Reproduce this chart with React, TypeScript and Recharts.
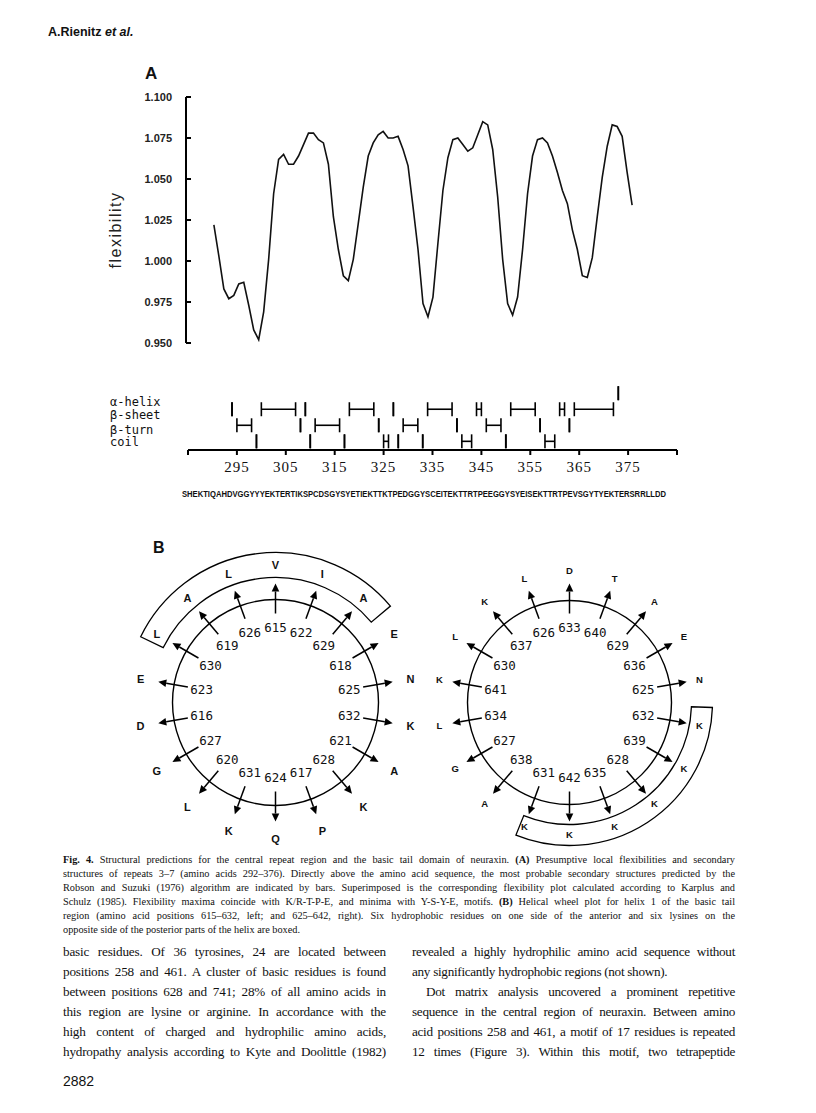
import React from "react"
import { LineChart, Line, XAxis, YAxis, ComposedChart, Scatter, ErrorBar } from "recharts"

// Karplus & Schulz flexibility, repeats 3-7 (residues 292-376)
const firstResidue = 292
const flexibility = [
    1.022, 1.003, 0.983, 0.977, 0.979, 0.986, 0.987, 0.973, 0.958, 0.952,
    0.969, 1.001, 1.041, 1.062, 1.065, 1.059, 1.059, 1.064, 1.071, 1.078,
    1.078, 1.074, 1.072, 1.059, 1.027, 1.007, 0.991, 0.988, 1.001, 1.023,
    1.045, 1.064, 1.072, 1.077, 1.079, 1.075, 1.075, 1.076, 1.068, 1.058,
    1.033, 1.007, 0.974, 0.966, 0.978, 1.011, 1.043, 1.063, 1.074, 1.075,
    1.071, 1.067, 1.069, 1.077, 1.085, 1.083, 1.068, 1.039, 1.001, 0.974,
    0.967, 0.978, 1.007, 1.041, 1.064, 1.074, 1.075, 1.072, 1.064, 1.054,
    1.043, 1.035, 1.019, 1.007, 0.991, 0.990, 1.002, 1.027, 1.051, 1.070,
    1.083, 1.082, 1.076, 1.054, 1.034,
]
const flexTicks = [0.95, 0.975, 1.0, 1.025, 1.05, 1.075, 1.1]

// Robson & Suzuki secondary structure, [first, last] residue
const structureRows = ["α-helix", "β-sheet", "β-turn", "coil"]
const helixSegments = [[373, 373]]
const sheetSegments = [[294, 294], [300, 307], [309, 309], [318, 323], [327, 327], [334, 339], [344, 345], [351, 356], [361, 362], [364, 372]]
const turnSegments = [[295, 298], [308, 308], [311, 316], [324, 324], [329, 332], [340, 340], [346, 349], [357, 357], [363, 363]]
const coilSegments = [[299, 299], [310, 310], [317, 317], [325, 326], [328, 328], [333, 333], [341, 343], [350, 350], [358, 360]]
const positionTicks = [285, 295, 305, 315, 325, 335, 345, 355, 365, 375, 385]
const sequence = "SHEKTIQAHDVGGYYYEKTERTIKSPCDSGYSYETIEKTTKTPEDGGYSCEITEKTTRTPEEGGYSYEISEKTTRTPEVSGYTYEKTERSRRLLDD"

// helical wheels
const leftWheelFirst = 615
const leftWheelResidues = ["V", "D", "P", "E", "A", "L", "A", "I", "E", "Q", "N", "L", "G", "K", "A", "L", "K", "K"]
const rightWheelFirst = 625
const rightWheelResidues = ["N", "L", "G", "K", "A", "L", "K", "K", "D", "L", "K", "E", "K", "A", "K", "T", "K", "K"]

const captionLines = [
    ["b:Fig. 4.", " Structural predictions for the central repeat region and the basic tail domain of neuraxin. ", "b:(A)", " Presumptive local flexibilities and secondary"],
    ["structures of repeats 3–7 (amino acids 292–376). Directly above the amino acid sequence, the most probable secondary structures predicted by the"],
    ["Robson and Suzuki (1976) algorithm are indicated by bars. Superimposed is the corresponding flexibility plot calculated according to Karplus and"],
    ["Schulz (1985). Flexibility maxima coincide with K/R-T-P-E, and minima with Y-S-Y-E, motifs. ", "b:(B)", " Helical wheel plot for helix 1 of the basic tail"],
    ["region (amino acid positions 615–632, left; and 625–642, right). Six hydrophobic residues on one side of the anterior and six lysines on the"],
    ["opposite side of the posterior parts of the helix are boxed."],
]
const leftColumn = [
    "basic residues. Of 36 tyrosines, 24 are located between",
    "positions 258 and 461. A cluster of basic residues is found",
    "between positions 628 and 741; 28% of all amino acids in",
    "this region are lysine or arginine. In accordance with the",
    "high content of charged and hydrophilic amino acids,",
    "hydropathy analysis according to Kyte and Doolittle (1982)",
]
const rightColumn = [
    "revealed a highly hydrophilic amino acid sequence without",
    "any significantly hydrophobic regions (not shown).",
    "Dot matrix analysis uncovered a prominent repetitive",
    "sequence in the central region of neuraxin. Between amino",
    "acid positions 258 and 461, a motif of 17 residues is repeated",
    "12 times (Figure 3). Within this motif, two tetrapeptide",
]

const flexData = flexibility.map((v, i) => ({ residue: firstResidue + i, flex: v }))
// a one-residue bar still needs a hair of width so the caps get drawn
const toRow = (segs: number[][], row: number) =>
    segs.map(([s, e]) => ({ x: (s + e) / 2, y: row, err: Math.max((e - s) / 2, 0.03) }))
const rowData = [
    toRow(helixSegments, 4),
    toRow(sheetSegments, 3),
    toRow(turnSegments, 2),
    toRow(coilSegments, 1),
]

const FlexTick = (props: any) => {
    const { x, y, payload } = props
    return (
        <g>
            <line x1={x} x2={x + 5} y1={y} y2={y} stroke="#000" strokeWidth={2} />
            <text x={x - 14} y={y} dy={4} textAnchor="end" fontSize={11} fontWeight={700}
                fontFamily="Liberation Sans, Arial" fill="#222">{payload.value.toFixed(3)}</text>
        </g>
    )
}

const labelShift = [9, 6, 5, 1]
const RowTick = (props: any) => {
    const { y, payload } = props
    const idx = 4 - payload.value
    return (
        <text x={10} y={y + labelShift[idx]} dy={4} fontSize={12}
            fontFamily="DejaVu Sans Mono, monospace" fill="#111">{structureRows[idx]}</text>
    )
}

const rad = (d: number) => (d * Math.PI) / 180
const pt = (cx: number, cy: number, r: number, deg: number) => [cx + r * Math.cos(rad(deg)), cy - r * Math.sin(rad(deg))]
const wheelAngle = (n: number) => 90 + (n - 615) * 100

function bandPath(cx: number, cy: number, r1: number, r2: number, a1: number, a2: number) {
    const [ox1, oy1] = pt(cx, cy, r2, a1)
    const [ox2, oy2] = pt(cx, cy, r2, a2)
    const [ix2, iy2] = pt(cx, cy, r1, a2)
    const [ix1, iy1] = pt(cx, cy, r1, a1)
    const large = a2 - a1 > 180 ? 1 : 0
    return `M${ox1},${oy1} A${r2},${r2} 0 ${large} 0 ${ox2},${oy2} L${ix2},${iy2} A${r1},${r1} 0 ${large} 1 ${ix1},${iy1} Z`
}

function Wheel(props: { cx: number, cy: number, r: number, first: number, residues: string[], band: number[], letterR: number, letterSize: number }) {
    const { cx, cy, r, first, residues, band, letterR, letterSize } = props
    return (
        <g>
            <circle cx={cx} cy={cy} r={r} fill="none" stroke="#000" strokeWidth={1.4} />
            <path d={bandPath(cx, cy, band[0], band[1], band[2], band[3])} fill="none" stroke="#000" strokeWidth={1.3} />
            {residues.map((res, i) => {
                const n = first + i
                const a = wheelAngle(n)
                const [x1, y1] = pt(cx, cy, 89, a)
                const [x2, y2] = pt(cx, cy, 111, a)
                const [tx, ty] = pt(cx, cy, 119, a)
                const px = Math.sin(rad(a)) * 3.8
                const py = Math.cos(rad(a)) * 3.8
                const [nx, ny] = pt(cx, cy, 75, a)
                const [lx, ly] = pt(cx, cy, letterR, a)
                return (
                    <g key={n}>
                        <line x1={x1} y1={y1} x2={x2} y2={y2} stroke="#000" strokeWidth={1.5} />
                        <polygon points={`${tx},${ty} ${x2 + px},${y2 + py} ${x2 - px},${y2 - py}`} fill="#000" />
                        <text x={nx} y={ny} dy={4.5} textAnchor="middle" fontSize={12.5}
                            fontFamily="DejaVu Sans Mono, monospace" fill="#111">{n}</text>
                        <text x={lx} y={ly} dy={letterSize * 0.36} textAnchor="middle" fontSize={letterSize}
                            fontWeight={700} fontFamily="Liberation Sans, Arial" fill="#111">{res}</text>
                    </g>
                )
            })}
        </g>
    )
}

const serif = "Liberation Serif, Times New Roman, serif"

export default function App() {
    return (
        <div style={{ position: "absolute", left: 0, top: 0, width: 816, height: 1113, background: "#fff", overflow: "hidden" }}>
            <div style={{ position: "absolute", left: 100, top: 80 }}>
                <LineChart width={560} height={280} data={flexData} margin={{ top: 17, right: 0, bottom: 17, left: 0 }}>
                    <XAxis dataKey="residue" type="number" domain={[286.4, 381.6]} allowDataOverflow hide />
                    <YAxis type="number" domain={[0.95, 1.1]} ticks={flexTicks} interval={0} width={86}
                        axisLine={{ stroke: "#000", strokeWidth: 2 }} tickLine={false} tickSize={0} tickMargin={0}
                        tick={<FlexTick />} allowDataOverflow />
                    <Line type="linear" dataKey="flex" stroke="#111" strokeWidth={1.6} dot={false} isAnimationActive={false} />
                </LineChart>
            </div>

            <div style={{ position: "absolute", left: 100, top: 360 }}>
                <ComposedChart width={587} height={120} margin={{ top: 12, right: 10, bottom: 0, left: 0 }}>
                    <XAxis type="number" dataKey="x" domain={[285, 385]} ticks={positionTicks} interval={0} allowDataOverflow
                        height={30} axisLine={{ stroke: "#000", strokeWidth: 2 }} tickLine={{ stroke: "#000", strokeWidth: 2 }}
                        tickSize={5} tickMargin={6}
                        tickFormatter={(v: number) => (v === 285 || v === 385 ? "" : String(v))}
                        tick={{ fontSize: 15, fontFamily: serif, fill: "#111", letterSpacing: 1 }} />
                    <YAxis type="number" dataKey="y" domain={[0.46, 5.32]} ticks={[1, 2, 3, 4]} interval={0} width={88}
                        axisLine={false} tickLine={false} tick={<RowTick />} allowDataOverflow />
                    {rowData.map((d, i) => (
                        <Scatter key={i} data={d} shape={() => <g />} isAnimationActive={false}>
                            <ErrorBar dataKey="err" direction="x" width={7} stroke="#000" strokeWidth={1.6} isAnimationActive={false} />
                        </Scatter>
                    ))}
                </ComposedChart>
            </div>

            <svg width={816} height={1113} style={{ position: "absolute", left: 0, top: 0 }}>
                <text x={48} y={36} fontSize={12.5} fontWeight={700} fontFamily="Liberation Sans, Arial" fill="#111">
                    A.Rienitz <tspan fontStyle="italic">et al.</tspan>
                </text>
                <text x={145} y={79} fontSize={17} fontWeight={700} fontFamily="Liberation Sans, Arial" fill="#111">A</text>
                <text x={121} y={230} transform="rotate(-90 121 230)" textAnchor="middle" fontSize={16}
                    letterSpacing={1.5} fontFamily="Liberation Sans, Arial" fill="#222">flexibility</text>
                <text x={182} y={497} textLength={484} lengthAdjust="spacingAndGlyphs" fontSize={9.6} fontWeight={700}
                    fontFamily="Liberation Sans, Arial" fill="#111">{sequence}</text>
                <text x={153} y={553} fontSize={16} fontWeight={700} fontFamily="Liberation Sans, Arial" fill="#111">B</text>

                <Wheel cx={275.5} cy={702.5} r={103} first={leftWheelFirst} residues={leftWheelResidues}
                    band={[125, 150, 40, 154]} letterR={137} letterSize={11} />
                <Wheel cx={569.5} cy={702.5} r={102} first={rightWheelFirst} residues={rightWheelResidues}
                    band={[122, 143, 248, 358]} letterR={132} letterSize={9.5} />

                <text x={63} y={1086} fontSize={14} fontFamily="Liberation Sans, Arial" fill="#111">2882</text>
            </svg>

            <div style={{ position: "absolute", left: 63, top: 853, width: 672, fontFamily: serif, fontSize: 10.3, lineHeight: "14px", color: "#111" }}>
                {captionLines.map((parts, i) => (
                    <div key={i} style={{ textAlign: "justify", textAlignLast: i === captionLines.length - 1 ? "left" : "justify", height: 14 }}>
                        {parts.map((p, j) => p.startsWith("b:") ? <b key={j}>{p.slice(2)}</b> : <span key={j}>{p}</span>)}
                    </div>
                ))}
            </div>

            <div style={{ position: "absolute", left: 63, top: 942, width: 323, fontFamily: serif, fontSize: 13.2, lineHeight: "20px", color: "#111", letterSpacing: -0.2 }}>
                {leftColumn.map((l, i) => (
                    <div key={i} style={{ textAlign: "justify", textAlignLast: "justify", height: 20 }}>{l}</div>
                ))}
            </div>
            <div style={{ position: "absolute", left: 412, top: 942, width: 323, fontFamily: serif, fontSize: 13.2, lineHeight: "20px", color: "#111", letterSpacing: -0.3 }}>
                {rightColumn.map((l, i) => (
                    <div key={i} style={{ textAlign: "justify", textAlignLast: i === 1 ? "left" : "justify", height: 20, paddingLeft: i === 2 ? 14 : 0 }}>{l}</div>
                ))}
            </div>
        </div>
    )
}
